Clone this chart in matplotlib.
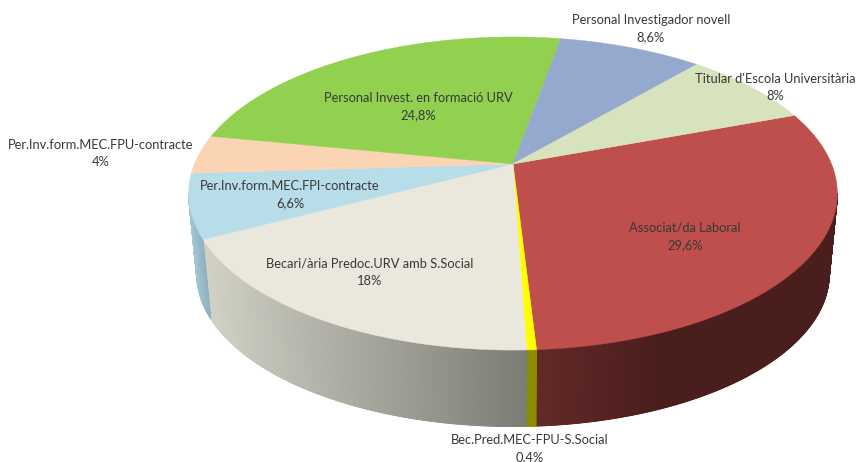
import numpy as np
import matplotlib
matplotlib.use("Agg")
import matplotlib.pyplot as plt
from matplotlib.collections import PolyCollection
from matplotlib.colors import to_rgb

plt.rcParams['font.family'] = ['Lato', 'DejaVu Sans']

labels = ["Associat/da Laboral", "Bec.Pred.MEC-FPU-S.Social",
          "Becari/ària Predoc.URV amb S.Social", "Per.Inv.form.MEC.FPI-contracte",
          "Per.Inv.form.MEC.FPU-contracte", "Personal Invest. en formació URV",
          "Personal Investigador novell", "Titular d'Escola Universitària"]
values = [29.6, 0.4, 18, 6.6, 4, 24.8, 8.6, 8]
value_labels = ["29,6%", "0,4%", "18%", "6,6%", "4%", "24,8%", "8,6%", "8%"]
top_colors = ["#BE4F4C", "#FFFF00", "#EAE8DC", "#B7DDE8", "#FBD4B4", "#92D050", "#95A9CF", "#D7E3BC"]
wall_left = ["#642A28", "#8C8C00", "#D2D1C6", "#A3C4D2", "#C0A48C", "#6F9F3D", "#71809E", "#A3AD8F"]
wall_right = ["#4A1E1D", "#8C8C00", "#7B7C74", "#8FB0BE", "#C0A48C", "#6F9F3D", "#71809E", "#A3AD8F"]
wall_ramp = [2.5, 1, 1, 1, 1, 1, 1, 1]
label_pos = [(685, 228), (530, 440), (370, 264), (290, 186),
             (101, 145), (418, 98), (651, 20.5), (775, 79)]

# Projection of the pie disc (a tilted circle seen in perspective)
CX, CY = 513, 164
A, B, K = 318.5, 151, 0.1885
START = 70.0
DEPTH, SHRINK = 81, 0.975
# the wall is visible between the two silhouette tangents of the disc
VIS = np.degrees(np.arcsin(K))
WALL_FROM, WALL_TO = 90 + VIS, 270 - VIS


def project(theta, scale=1.0, dy=0.0):
    t = np.radians(theta)
    x, y = np.sin(t), np.cos(t)
    d = 1 + K * y
    return CX + scale * A * x / d, CY + dy - scale * B * y / d


fig = plt.figure(figsize=(8.57, 4.62), dpi=100)
ax = fig.add_axes([0, 0, 1, 1])
ax.set_xlim(0, 857)
ax.set_ylim(462, 0)
ax.axis("off")

edges = START + 360 * np.cumsum([0] + values) / sum(values)

# side walls with a horizontal gradient per slice
for i in range(len(values)):
    a0, a1 = max(edges[i], WALL_FROM), min(edges[i + 1], WALL_TO)
    if a1 <= a0:
        continue
    th = np.linspace(a0, a1, max(int(a1 - a0) * 3, 4))
    xt, yt = project(th)
    xb, yb = project(th, SHRINK, DEPTH)
    lo, hi = xt.min(), xt.max()
    c0, c1 = np.array(to_rgb(wall_left[i])), np.array(to_rgb(wall_right[i]))
    # solid base so that the seams of the gradient strips do not show white
    ax.fill(np.r_[xt, xb[::-1]], np.r_[yt, yb[::-1]], facecolor=(c0 + c1) / 2,
            edgecolor=(c0 + c1) / 2, linewidth=0.4, zorder=1)
    polys, cols = [], []
    for j in range(len(th) - 1):
        polys.append([(xt[j], yt[j]), (xt[j + 1], yt[j + 1]), (xb[j + 1], yb[j + 1]), (xb[j], yb[j])])
        f = np.clip(((xt[j] + xt[j + 1]) / 2 - lo) / max(hi - lo, 1) * wall_ramp[i], 0, 1)
        cols.append(c0 + (c1 - c0) * f)
    ax.add_collection(PolyCollection(polys, facecolors=cols, edgecolors=cols, linewidths=0.8, zorder=1.5))

# top face
for i in range(len(values)):
    th = np.linspace(edges[i], edges[i + 1], 200)
    xt, yt = project(th)
    ax.fill(np.r_[CX, xt], np.r_[CY, yt], facecolor=top_colors[i],
            edgecolor=top_colors[i], linewidth=0.3, zorder=2)

# labels
for name, val, (x, y) in zip(labels, value_labels, label_pos):
    ax.text(x, y, name, ha="center", va="center", fontsize=9.3, color="#383838", zorder=3)
    ax.text(x, y + 17, val, ha="center", va="center", fontsize=9.3, color="#383838", zorder=3)

fig.savefig("out.png", dpi=100, facecolor="white")
